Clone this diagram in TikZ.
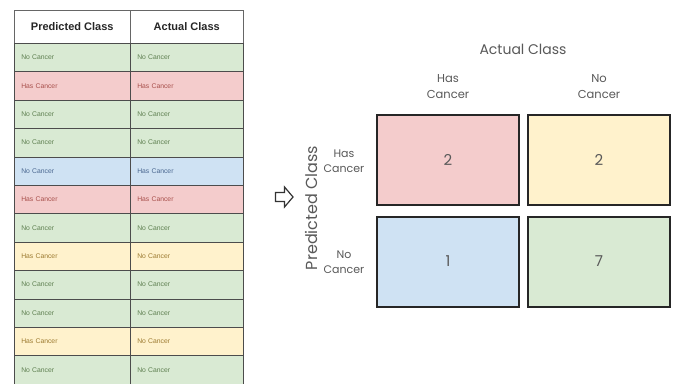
\documentclass[tikz,border=0pt]{standalone}
\usepackage{fontspec}
\setmainfont{Liberation Sans}
\newfontfamily\gothic{Poppins}
\begin{document}
\begin{tikzpicture}[x=1pt,y=-1pt,
  cell/.style={draw=black!70,line width=0.5pt,minimum height=28.4pt,anchor=north west,inner sep=0pt,font=\fontsize{6.8}{8}\selectfont},
  hdr/.style={draw=black!60,line width=0.5pt,fill=white,minimum height=33pt,anchor=north west,inner sep=0pt,font=\bfseries\fontsize{11}{13}\selectfont,text=black!85},
  mbox/.style={draw=black!85,line width=2pt,minimum width=142pt,minimum height=90pt,inner sep=0pt,font=\gothic\fontsize{15}{17}\selectfont,text=black!65},
  lbl/.style={font=\gothic\fontsize{11.5}{16}\selectfont,text=black!65,align=center}]
\useasboundingbox (0,0) rectangle (677,383);
\fill[white] (0,0) rectangle (677,383);
\definecolor{gfill}{HTML}{D9EAD3}
\definecolor{rfill}{HTML}{F4CCCC}
\definecolor{bfill}{HTML}{CFE2F3}
\definecolor{yfill}{HTML}{FFF2CC}
\definecolor{gtext}{HTML}{5E7F50}
\definecolor{rtext}{HTML}{A8504C}
\definecolor{btext}{HTML}{4A6790}
\definecolor{ytext}{HTML}{9C7A30}
% header
\node[hdr,minimum width=116pt] (hp) at (14,10) {Predicted Class};
\node[hdr,minimum width=113pt] (ha) at (130,10) {Actual Class};
% rows
\foreach \i/\p/\a/\f/\t in {
 1/No Cancer/No Cancer/gfill/gtext,
 2/Has Cancer/Has Cancer/rfill/rtext,
 3/No Cancer/No Cancer/gfill/gtext,
 4/No Cancer/No Cancer/gfill/gtext,
 5/No Cancer/Has Cancer/bfill/btext,
 6/Has Cancer/Has Cancer/rfill/rtext,
 7/No Cancer/No Cancer/gfill/gtext,
 8/Has Cancer/No Cancer/yfill/ytext,
 9/No Cancer/No Cancer/gfill/gtext,
 10/No Cancer/No Cancer/gfill/gtext,
 11/Has Cancer/No Cancer/yfill/ytext,
 12/No Cancer/No Cancer/gfill/gtext}{
  \node[cell,fill=\f,minimum width=116pt,text=\t,text width=102pt,align=left] (p\i) at (14,{43+(\i-1)*28.4}) {\p};
  \node[cell,fill=\f,minimum width=113pt,text=\t,text width=99pt,align=left] (a\i) at (130,{43+(\i-1)*28.4}) {\a};
}
% arrow
\node[inner sep=0pt] (arr) at (284,197) {};
\draw[black!80,line width=1.2pt,line join=miter]
  (275.5,192.5) -- (284.5,192.5) -- (284.5,187) -- (293,197) -- (284.5,207) -- (284.5,201.5) -- (275.5,201.5) -- cycle;
% matrix
\node[mbox,fill=rfill] (tp) at (448,160) {2};
\node[mbox,fill=yfill] (fp) at (599,160) {2};
\node[mbox,fill=bfill] (fn) at (448,261.5) {1};
\node[mbox,fill=gfill] (tn) at (599,261.5) {7};
% labels
\node[lbl,font=\gothic\fontsize{14}{16}\selectfont] (ac) at (523,49) {Actual Class};
\node[lbl] (ch) at (448,87) {Has\\Cancer};
\node[lbl] (cn) at (599,87) {No\\Cancer};
\node[lbl,font=\gothic\fontsize{11}{15.5}\selectfont] (rh) at (344,161) {Has\\Cancer};
\node[lbl,font=\gothic\fontsize{11}{15.5}\selectfont] (rn) at (344,262) {No\\Cancer};
\node[lbl,font=\gothic\fontsize{16}{18}\selectfont,rotate=90] (pc) at (311,208) {Predicted Class};
\end{tikzpicture}
\end{document}
